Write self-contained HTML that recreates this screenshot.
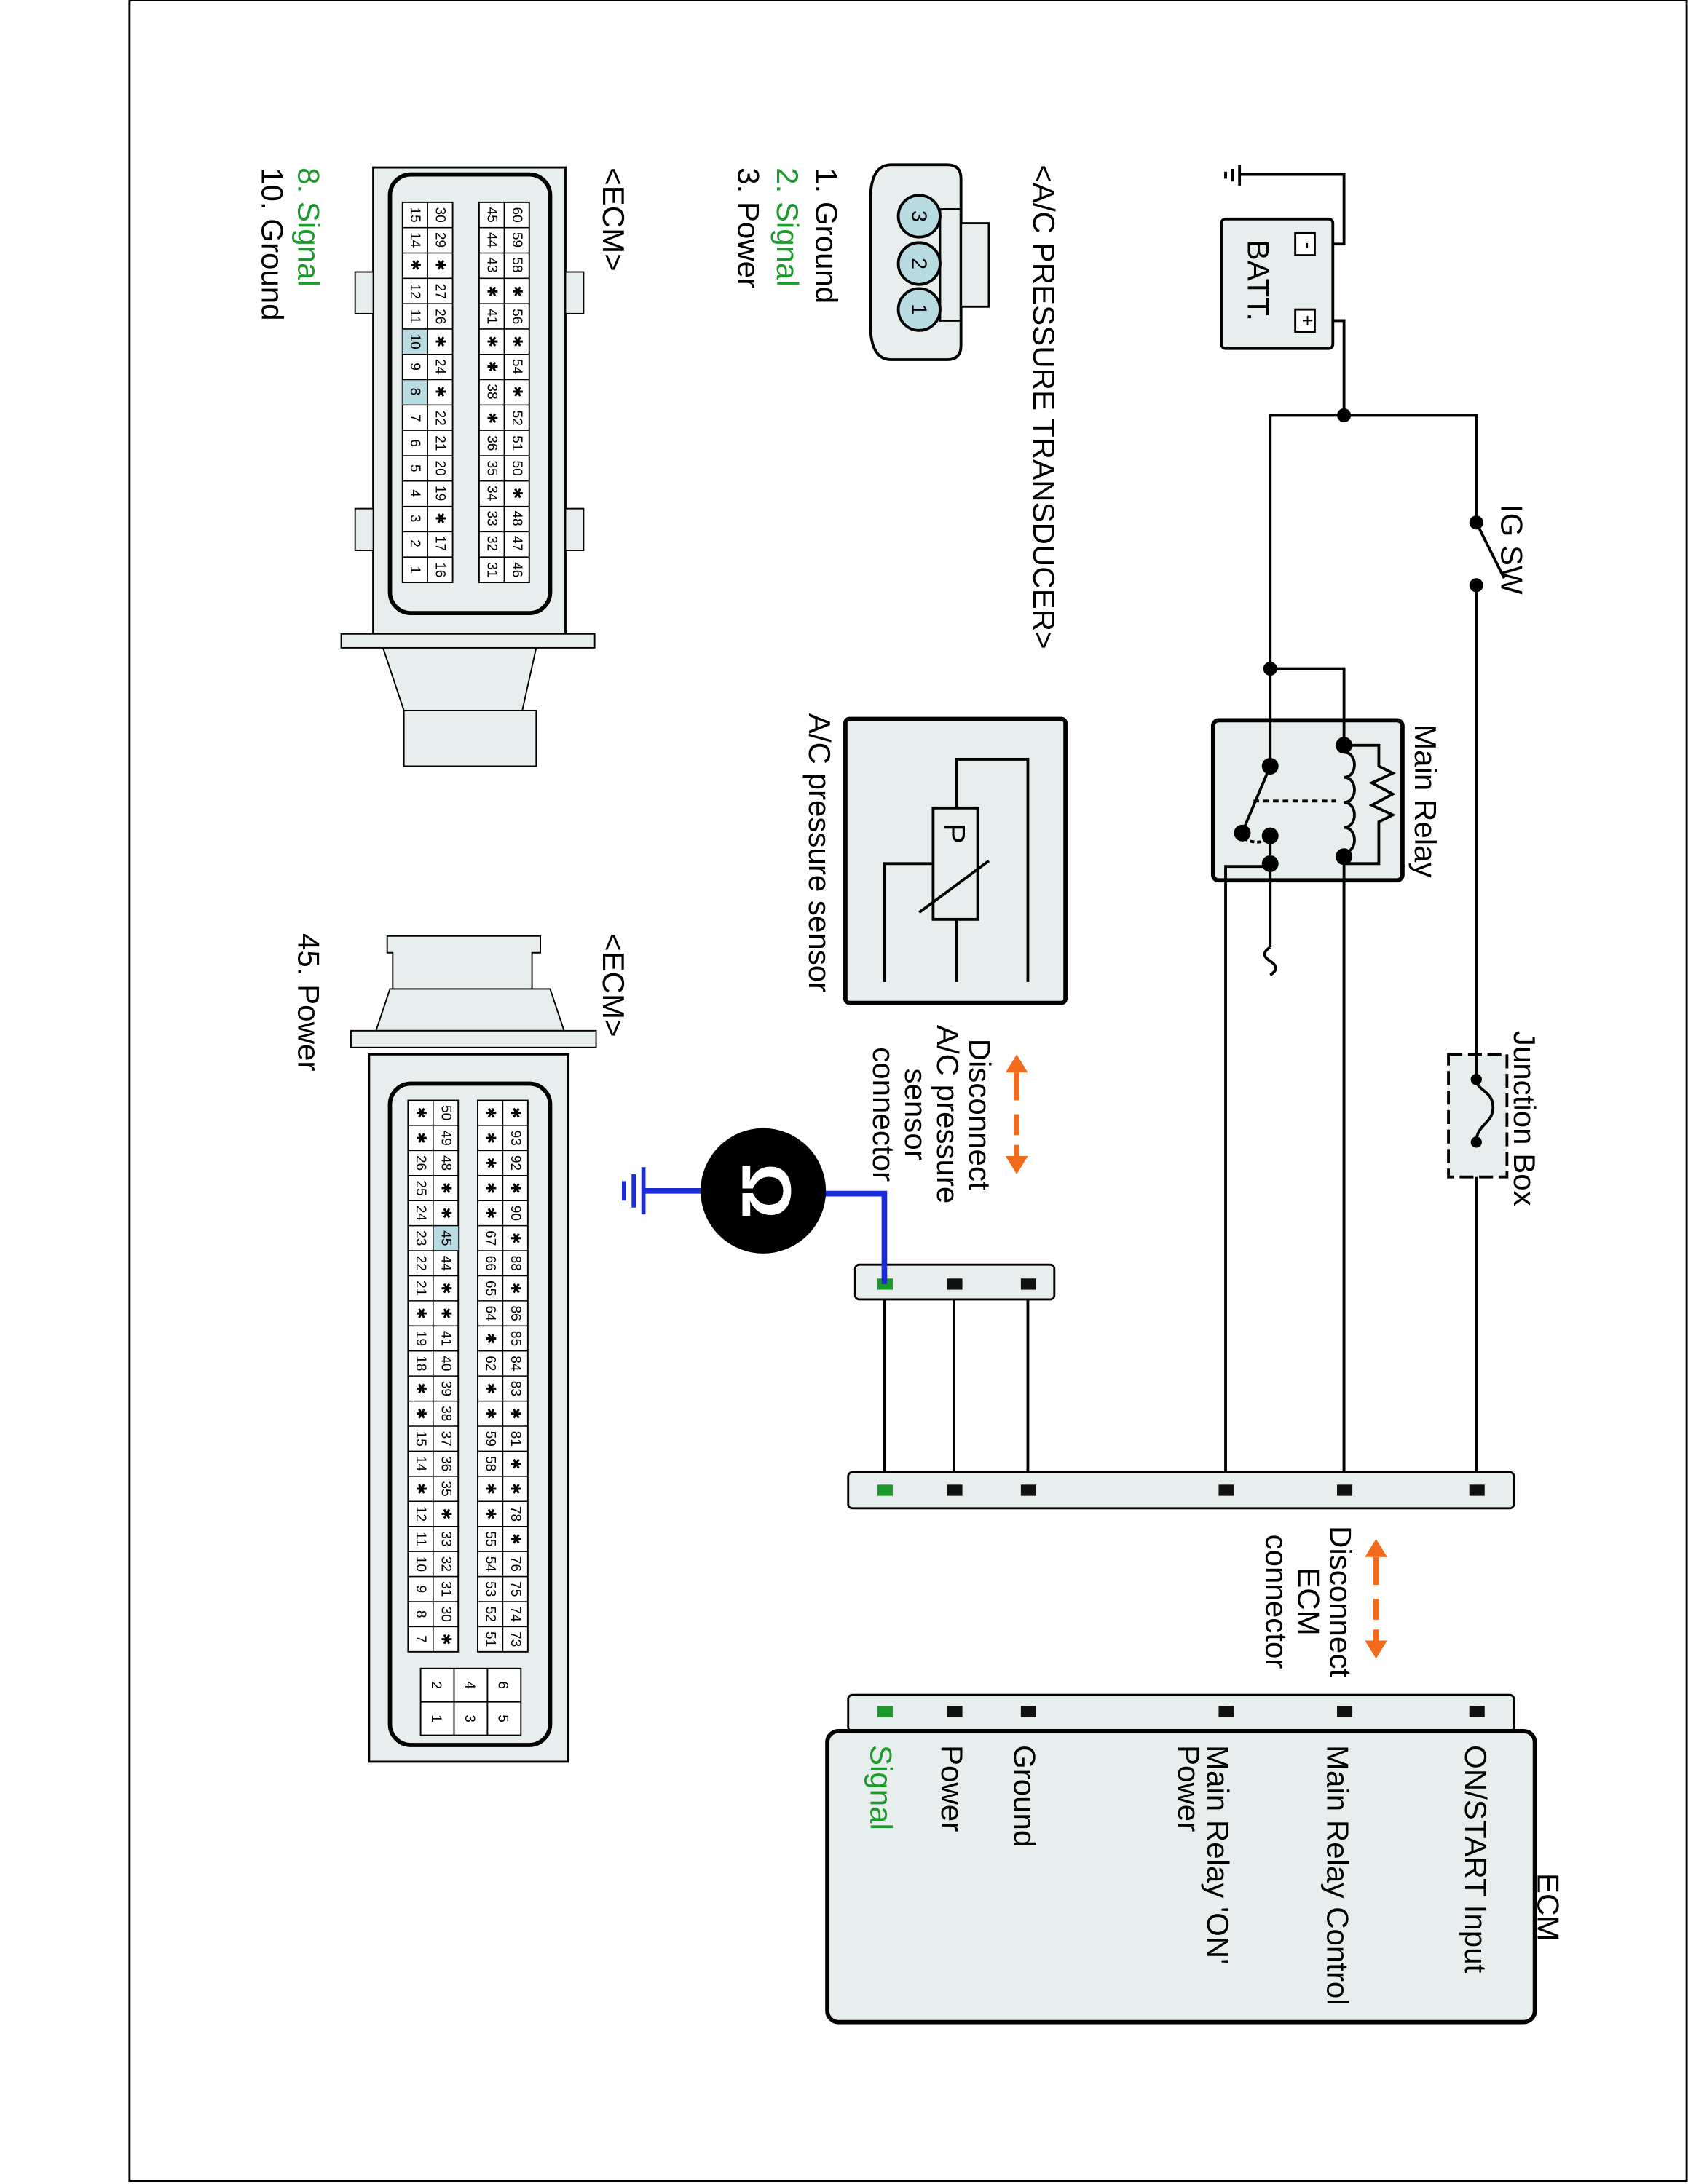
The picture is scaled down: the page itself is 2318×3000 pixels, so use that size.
<!DOCTYPE html>
<html><head><meta charset="utf-8"><style>
html,body{margin:0;padding:0;background:#fff}
svg{display:block}
text{font-family:"Liberation Sans",sans-serif}
</style></head><body>
<svg width="2318" height="3000" viewBox="0 0 1212 1568" xmlns="http://www.w3.org/2000/svg">
<rect x="93" y="0" width="1118" height="1566" fill="none" stroke="#000" stroke-width="1.5"/>
<g stroke="#000" stroke-width="2" fill="none">
<line x1="890" y1="118" x2="890" y2="133"/><line x1="885" y1="121" x2="885" y2="130"/><line x1="880" y1="123" x2="880" y2="128"/>
<polyline points="890,125 965,125 965,175 957,175"/>
<polyline points="957,230 965,230 965,298"/>
<polyline points="912,480 912,298 1060,298 1060,375"/>
<line x1="1060" y1="375" x2="1080" y2="415"/>
<line x1="1060" y1="420" x2="1060" y2="770"/>
<line x1="1060" y1="825" x2="1060" y2="1070"/>
<polyline points="912,480 965,480 965,1070"/>
<line x1="912" y1="480" x2="912" y2="550"/>
<line x1="880" y1="620" x2="880" y2="1070"/>
<line x1="912" y1="620" x2="912" y2="680"/>
<path d="M912,680 q-8,5 0,10 q8,5 0,10"/>
<line x1="635" y1="922" x2="635" y2="1070"/>
<line x1="685" y1="922" x2="685" y2="1070"/>
<line x1="738" y1="922" x2="738" y2="1070"/>
</g>
<rect x="877" y="157" width="80" height="93" rx="3" fill="#e8eeee" stroke="#000" stroke-width="2"/>
<rect x="930" y="167" width="14" height="16" fill="#fff" stroke="#000" stroke-width="1.5"/>
<rect x="930" y="222" width="14" height="16" fill="#fff" stroke="#000" stroke-width="1.5"/>
<text transform="translate(935,176) rotate(90)" font-size="14" text-anchor="middle">-</text>
<text transform="translate(934,230) rotate(90)" font-size="14" text-anchor="middle">+</text>
<text transform="translate(896,172) rotate(90)" font-size="22">BATT.</text>
<g fill="#000"><circle cx="965" cy="298" r="5"/><circle cx="912" cy="480" r="5"/><circle cx="1060" cy="375" r="5"/><circle cx="1060" cy="420" r="5"/></g>
<rect x="1040" y="757" width="42" height="88" fill="#e8eeee" stroke="#000" stroke-width="2" stroke-dasharray="10,4"/>
<line x1="1060" y1="757" x2="1060" y2="775" stroke="#000" stroke-width="2"/>
<path d="M1060,775 c0,8 12,8 12,20 c0,12 -12,12 -12,25" fill="none" stroke="#000" stroke-width="2"/>
<circle cx="1060" cy="775" r="4"/><circle cx="1060" cy="820" r="4"/>
<rect x="871" y="517" width="136" height="115" rx="4" fill="#e8eeee" stroke="#000" stroke-width="3"/>
<g stroke="#000" stroke-width="2" fill="none">
<line x1="912" y1="517" x2="912" y2="550"/><line x1="965" y1="517" x2="965" y2="1070"/>
<polyline points="965,535 990,535 990,550 1000,555 985,562 1000,570 985,578 1000,585 990,590 990,620 965,620"/>
<line x1="912" y1="550" x2="893" y2="595"/>
<line x1="900" y1="575" x2="965" y2="575" stroke-dasharray="4,3"/>
<path d="M893,602 q10,5 19,0" stroke-dasharray="3,2"/>
<polyline points="880,632 880,622 912,622"/>
<line x1="912" y1="600" x2="912" y2="632"/>
</g>
<rect x="959" y="540" width="12" height="75" fill="#e8eeee"/>
<path d="M965,540 c10,0 10,18 0,18 c10,0 10,18 0,18 c10,0 10,18 0,18 c10,0 10,18 0,18" fill="none" stroke="#000" stroke-width="2"/>
<g fill="#000"><circle cx="965" cy="535" r="6"/><circle cx="965" cy="615" r="6"/><circle cx="912" cy="550" r="6"/><circle cx="892" cy="598" r="6"/><circle cx="912" cy="600" r="6"/><circle cx="912" cy="620" r="6"/></g>
<rect x="609" y="1057" width="478" height="26" rx="3" fill="#e8eeee" stroke="#000" stroke-width="1.5"/>
<rect x="609" y="1217" width="478" height="26" rx="3" fill="#e8eeee" stroke="#000" stroke-width="1.5"/>
<rect x="594" y="1243" width="508" height="209" rx="8" fill="#e8eeee" stroke="#000" stroke-width="3"/>
<rect x="614" y="908" width="143" height="25" rx="3" fill="#e8eeee" stroke="#000" stroke-width="1.5"/>
<g fill="#111">
<rect x="680" y="1066" width="11" height="8"/><rect x="733" y="1066" width="11" height="8"/><rect x="875" y="1066" width="11" height="8"/><rect x="960" y="1066" width="11" height="8"/><rect x="1055" y="1066" width="11" height="8"/>
<rect x="680" y="1225" width="11" height="8"/><rect x="733" y="1225" width="11" height="8"/><rect x="875" y="1225" width="11" height="8"/><rect x="960" y="1225" width="11" height="8"/><rect x="1055" y="1225" width="11" height="8"/>
<rect x="680" y="918" width="11" height="8"/><rect x="733" y="918" width="11" height="8"/>
<rect x="680" y="707" width="11" height="8"/><rect x="733" y="707" width="11" height="8"/>
</g>
<g fill="#1a9a2a"><rect x="630" y="1066" width="11" height="8"/><rect x="630" y="1225" width="11" height="8"/><rect x="630" y="918" width="11" height="8"/><rect x="630" y="707" width="11" height="8"/></g>
<rect x="607" y="516" width="158" height="204" rx="3" fill="#e8eeee" stroke="#000" stroke-width="3"/>
<g stroke="#000" stroke-width="2" fill="none">
<polyline points="738,705 738,545 687,545 687,580"/>
<rect x="670" y="580" width="32" height="80" fill="#e8eeee"/>
<line x1="687" y1="660" x2="687" y2="705"/>
<polyline points="670,620 635,620 635,705"/>
<line x1="660" y1="655" x2="710" y2="618"/>
</g>
<text transform="translate(678,591) rotate(90)" font-size="22">P</text>
<polyline points="590,857 635,857 635,922" fill="none" stroke="#1a2ad8" stroke-width="4"/>
<line x1="505" y1="855" x2="462" y2="855" stroke="#1a2ad8" stroke-width="4"/>
<line x1="462" y1="838" x2="462" y2="872" stroke="#1a2ad8" stroke-width="3"/><line x1="455" y1="843" x2="455" y2="867" stroke="#1a2ad8" stroke-width="3"/><line x1="448" y1="848" x2="448" y2="862" stroke="#1a2ad8" stroke-width="3"/>
<circle cx="548" cy="855" r="45" fill="#000"/>
<text transform="translate(533,855) rotate(90)" font-size="50" font-weight="bold" fill="#fff" text-anchor="middle">Ω</text>
<g stroke="#f26a1b" stroke-width="4" fill="#f26a1b">
<line x1="730" y1="770" x2="730" y2="790"/><line x1="730" y1="800" x2="730" y2="815"/><line x1="730" y1="822" x2="730" y2="830"/>
<polygon points="722,770 738,770 730,757" stroke="none"/><polygon points="722,830 738,830 730,843" stroke="none"/>
<line x1="988" y1="1118" x2="988" y2="1138"/><line x1="988" y1="1148" x2="988" y2="1163"/><line x1="988" y1="1170" x2="988" y2="1178"/>
<polygon points="980,1118 996,1118 988,1105" stroke="none"/><polygon points="980,1178 996,1178 988,1191" stroke="none"/>
</g>
<g font-size="22">
<text transform="translate(1078,362) rotate(90)">IG SW</text>
<text transform="translate(1016,520) rotate(90)">Main Relay</text>
<text transform="translate(1087,740) rotate(90)">Junction Box</text>
<text transform="translate(955,1150) rotate(90)" text-anchor="middle">Disconnect</text>
<text transform="translate(932,1150) rotate(90)" text-anchor="middle">ECM</text>
<text transform="translate(909,1150) rotate(90)" text-anchor="middle">connector</text>
<text transform="translate(696,800) rotate(90)" text-anchor="middle">Disconnect</text>
<text transform="translate(673,800) rotate(90)" text-anchor="middle">A/C pressure</text>
<text transform="translate(650,800) rotate(90)" text-anchor="middle">sensor</text>
<text transform="translate(627,800) rotate(90)" text-anchor="middle">connector</text>
<text transform="translate(581,512) rotate(90)">A/C pressure sensor</text>
<text transform="translate(742,118) rotate(90)">&lt;A/C PRESSURE TRANSDUCER&gt;</text>
<text transform="translate(586,120) rotate(90)">1. Ground</text>
<text transform="translate(558,120) rotate(90)" fill="#1a9a2a">2. Signal</text>
<text transform="translate(530,120) rotate(90)">3. Power</text>
<text transform="translate(433,120) rotate(90)">&lt;ECM&gt;</text>
<text transform="translate(214,120) rotate(90)" fill="#1a9a2a">8. Signal</text>
<text transform="translate(188,120) rotate(90)">10. Ground</text>
<text transform="translate(433,670) rotate(90)">&lt;ECM&gt;</text>
<text transform="translate(214,670) rotate(90)">45. Power</text>
<text transform="translate(1104,1345) rotate(90)">ECM</text>
<text transform="translate(1052,1253) rotate(90)">ON/START Input</text>
<text transform="translate(953,1253) rotate(90)">Main Relay Control</text>
<text transform="translate(867,1253) rotate(90)">Main Relay 'ON'</text>
<text transform="translate(846,1253) rotate(90)">Power</text>
<text transform="translate(728,1253) rotate(90)">Ground</text>
<text transform="translate(676,1253) rotate(90)">Power</text>
<text transform="translate(625,1253) rotate(90)" fill="#1a9a2a">Signal</text>
</g>
<path d="M640,118 h40 q10,0 10,10 v120 q0,10 -10,10 h-40 q-15,0 -15,-25 v-90 q0,-25 15,-25z" fill="#e8eeee" stroke="#000" stroke-width="2"/>
<rect x="690" y="160" width="20" height="60" fill="#e8eeee" stroke="#000" stroke-width="1.5"/>
<rect x="675" y="150" width="15" height="80" fill="none" stroke="#000" stroke-width="1.5"/>
<g fill="#b9dce3" stroke="#000" stroke-width="2"><circle cx="660" cy="155" r="15"/><circle cx="660" cy="189" r="15"/><circle cx="660" cy="222" r="15"/></g>
<g font-size="15"><text transform="translate(655,155) rotate(90)" text-anchor="middle">3</text><text transform="translate(655,189) rotate(90)" text-anchor="middle">2</text><text transform="translate(655,222) rotate(90)" text-anchor="middle">1</text></g>
<rect x="268" y="120" width="138" height="335" fill="#e8eeee" stroke="#000" stroke-width="1.5"/>
<rect x="280" y="125" width="115" height="315" rx="15" fill="#e8eeee" stroke="#000" stroke-width="3"/>
<rect x="255" y="195" width="13" height="30" fill="#e8eeee" stroke="#000"/><rect x="255" y="365" width="13" height="30" fill="#e8eeee" stroke="#000"/>
<rect x="406" y="195" width="13" height="30" fill="#e8eeee" stroke="#000"/><rect x="406" y="365" width="13" height="30" fill="#e8eeee" stroke="#000"/>
<rect x="245" y="455" width="182" height="10" fill="#e8eeee" stroke="#000"/>
<path d="M275,465 L385,465 L375,510 L290,510 Z" fill="#e8eeee" stroke="#000"/>
<path d="M290,510 h95 v40 h-95 z" fill="#e8eeee" stroke="#000"/>
<g transform="translate(380,145) rotate(90)" font-size="10" text-anchor="middle">
<g fill="#fff" stroke="#000" stroke-width="1"><rect x="0" y="0" width="273" height="36"/><rect x="0" y="55" width="273" height="36"/></g>
<rect x="127.4" y="73" width="18.2" height="18" fill="#b9dce3"/>
<rect x="91" y="73" width="18.2" height="18" fill="#b9dce3"/>
<g stroke="#000" stroke-width="0.8"><path d="M0,18h273M0,73h273"/>
<path d="M18.2,0v36M36.4,0v36M54.6,0v36M72.8,0v36M91,0v36M109.2,0v36M127.4,0v36M145.6,0v36M163.8,0v36M182,0v36M200.2,0v36M218.4,0v36M236.6,0v36M254.8,0v36"/>
<path d="M18.2,55v36M36.4,55v36M54.6,55v36M72.8,55v36M91,55v36M109.2,55v36M127.4,55v36M145.6,55v36M163.8,55v36M182,55v36M200.2,55v36M218.4,55v36M236.6,55v36M254.8,55v36"/></g>
<g><text x="9" y="12">60</text><text x="27" y="12">59</text><text x="45" y="12">58</text><text x="64" y="12">✱</text><text x="82" y="12">56</text><text x="100" y="12">✱</text><text x="118" y="12">54</text><text x="136" y="12">✱</text><text x="155" y="12">52</text><text x="173" y="12">51</text><text x="191" y="12">50</text><text x="209" y="12">✱</text><text x="227" y="12">48</text><text x="245" y="12">47</text><text x="264" y="12">46</text>
<text x="9" y="30">45</text><text x="27" y="30">44</text><text x="45" y="30">43</text><text x="64" y="30">✱</text><text x="82" y="30">41</text><text x="100" y="30">✱</text><text x="118" y="30">✱</text><text x="136" y="30">38</text><text x="155" y="30">✱</text><text x="173" y="30">36</text><text x="191" y="30">35</text><text x="209" y="30">34</text><text x="227" y="30">33</text><text x="245" y="30">32</text><text x="264" y="30">31</text>
<text x="9" y="67">30</text><text x="27" y="67">29</text><text x="45" y="67">✱</text><text x="64" y="67">27</text><text x="82" y="67">26</text><text x="100" y="67">✱</text><text x="118" y="67">24</text><text x="136" y="67">✱</text><text x="155" y="67">22</text><text x="173" y="67">21</text><text x="191" y="67">20</text><text x="209" y="67">19</text><text x="227" y="67">✱</text><text x="245" y="67">17</text><text x="264" y="67">16</text>
<text x="9" y="85">15</text><text x="27" y="85">14</text><text x="45" y="85">✱</text><text x="64" y="85">12</text><text x="82" y="85">11</text><text x="100" y="85">10</text><text x="118" y="85">9</text><text x="136" y="85">8</text><text x="155" y="85">7</text><text x="173" y="85">6</text><text x="191" y="85">5</text><text x="209" y="85">4</text><text x="227" y="85">3</text><text x="245" y="85">2</text><text x="264" y="85">1</text></g>
</g>
<path d="M278,672 h110 v12 h-6 v40 h-100 v-40 h-4z" fill="#e8eeee" stroke="#000"/>
<path d="M280,710 L395,710 L405,740 L270,740 Z" fill="#e8eeee" stroke="#000"/>
<rect x="252" y="740" width="176" height="12" fill="#e8eeee" stroke="#000"/>
<rect x="265" y="757" width="143" height="508" fill="#e8eeee" stroke="#000" stroke-width="1.5"/>
<rect x="280" y="778" width="115" height="475" rx="15" fill="#e8eeee" stroke="#000" stroke-width="3"/>
<g transform="translate(379,790) rotate(90)" font-size="10" text-anchor="middle">
<g fill="#fff" stroke="#000" stroke-width="1"><rect x="0" y="0" width="396" height="36"/><rect x="0" y="50" width="396" height="36"/></g>
<rect x="90" y="50" width="18" height="18" fill="#b9dce3"/>
<g stroke="#000" stroke-width="0.8"><path d="M0,18h396M0,68h396"/>
<path d="M18,0v36M36,0v36M54,0v36M72,0v36M90,0v36M108,0v36M126,0v36M144,0v36M162,0v36M180,0v36M198,0v36M216,0v36M234,0v36M252,0v36M270,0v36M288,0v36M306,0v36M324,0v36M342,0v36M360,0v36M378,0v36"/>
<path d="M18,50v36M36,50v36M54,50v36M72,50v36M90,50v36M108,50v36M126,50v36M144,50v36M162,50v36M180,50v36M198,50v36M216,50v36M234,50v36M252,50v36M270,50v36M288,50v36M306,50v36M324,50v36M342,50v36M360,50v36M378,50v36"/></g>
<g><text x="9" y="12">✱</text><text x="27" y="12">93</text><text x="45" y="12">92</text><text x="63" y="12">✱</text><text x="81" y="12">90</text><text x="99" y="12">✱</text><text x="117" y="12">88</text><text x="135" y="12">✱</text><text x="153" y="12">86</text><text x="171" y="12">85</text><text x="189" y="12">84</text><text x="207" y="12">83</text><text x="225" y="12">✱</text><text x="243" y="12">81</text><text x="261" y="12">✱</text><text x="279" y="12">✱</text><text x="297" y="12">78</text><text x="315" y="12">✱</text><text x="333" y="12">76</text><text x="351" y="12">75</text><text x="369" y="12">74</text><text x="387" y="12">73</text></g>
<g><text x="9" y="30">✱</text><text x="27" y="30">✱</text><text x="45" y="30">✱</text><text x="63" y="30">✱</text><text x="81" y="30">✱</text><text x="99" y="30">67</text><text x="117" y="30">66</text><text x="135" y="30">65</text><text x="153" y="30">64</text><text x="171" y="30">✱</text><text x="189" y="30">62</text><text x="207" y="30">✱</text><text x="225" y="30">✱</text><text x="243" y="30">59</text><text x="261" y="30">58</text><text x="279" y="30">✱</text><text x="297" y="30">✱</text><text x="315" y="30">55</text><text x="333" y="30">54</text><text x="351" y="30">53</text><text x="369" y="30">52</text><text x="387" y="30">51</text></g>
<g><text x="9" y="62">50</text><text x="27" y="62">49</text><text x="45" y="62">48</text><text x="63" y="62">✱</text><text x="81" y="62">✱</text><text x="99" y="62">45</text><text x="117" y="62">44</text><text x="135" y="62">✱</text><text x="153" y="62">✱</text><text x="171" y="62">41</text><text x="189" y="62">40</text><text x="207" y="62">39</text><text x="225" y="62">38</text><text x="243" y="62">37</text><text x="261" y="62">36</text><text x="279" y="62">35</text><text x="297" y="62">✱</text><text x="315" y="62">33</text><text x="333" y="62">32</text><text x="351" y="62">31</text><text x="369" y="62">30</text><text x="387" y="62">✱</text></g>
<g><text x="9" y="80">✱</text><text x="27" y="80">✱</text><text x="45" y="80">26</text><text x="63" y="80">25</text><text x="81" y="80">24</text><text x="99" y="80">23</text><text x="117" y="80">22</text><text x="135" y="80">21</text><text x="153" y="80">✱</text><text x="171" y="80">19</text><text x="189" y="80">18</text><text x="207" y="80">✱</text><text x="225" y="80">✱</text><text x="243" y="80">15</text><text x="261" y="80">14</text><text x="279" y="80">✱</text><text x="297" y="80">12</text><text x="315" y="80">11</text><text x="333" y="80">10</text><text x="351" y="80">9</text><text x="369" y="80">8</text><text x="387" y="80">7</text></g>
</g>
<g transform="translate(374,1198) rotate(90)" font-size="10" text-anchor="middle">
<rect x="0" y="0" width="48" height="72" fill="#fff" stroke="#000"/>
<path d="M0,24h48M0,48h48M24,0v72" stroke="#000" fill="none"/>
<text x="12" y="16">6</text><text x="36" y="16">5</text><text x="12" y="40">4</text><text x="36" y="40">3</text><text x="12" y="64">2</text><text x="36" y="64">1</text>
</g>
</svg>
</body></html>
